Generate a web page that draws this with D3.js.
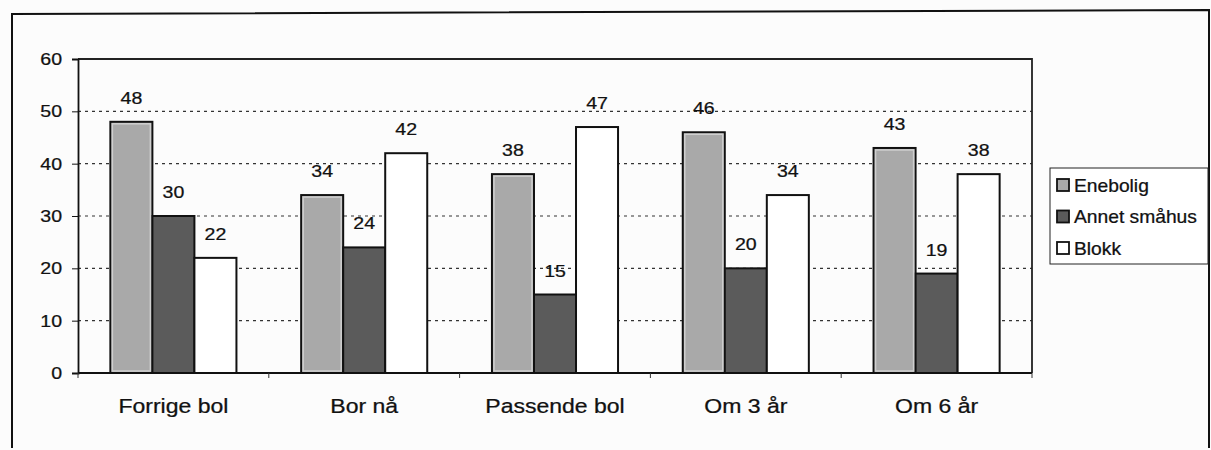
<!DOCTYPE html>
<html>
<head>
<meta charset="utf-8">
<script src="https://cdn.jsdelivr.net/npm/d3@7"></script>
<style>
  html, body { margin: 0; padding: 0; background: #fcfcfc; }
  svg { display: block; font-family: "Liberation Sans", Arial, sans-serif; }
</style>
</head>
<body>
<svg id="chart" width="1211" height="450"></svg>
<script>
// Housing type shares (%) by point in time
const categories = ["Forrige bol", "Bor nå", "Passende bol", "Om 3 år", "Om 6 år"];
const seriesNames = ["Enebolig", "Annet småhus", "Blokk"];
const enebolig = [48, 34, 38, 46, 43];
const annetSmahus = [30, 24, 15, 20, 19];
const blokk = [22, 42, 47, 34, 38];
const yTicks = [0, 10, 20, 30, 40, 50, 60];

const seriesValues = [enebolig, annetSmahus, blokk];
const fills = ["#a9a9a9", "#5b5b5b", "#ffffff"];

const svg = d3.select("#chart");

// Place text at (x, y) with horizontally widened glyphs
function wideText(sel, xFn, yFn, k) {
  sel.attr("x", 0).attr("y", 0)
    .attr("stroke", "#111").attr("stroke-width", 0.25)
    .attr("transform", (d, i) => `translate(${xFn(d, i)},${yFn(d, i)}) scale(${k},1)`);
}

// Outer frame
svg.append("path")
  .attr("d", "M12,448 L12,14 L1209,10 L1209,448")
  .attr("fill", "none").attr("stroke", "#111").attr("stroke-width", 2);

const plot = { left: 78, right: 1032, top: 59, bottom: 373 };

const x = d3.scaleBand().domain(categories).range([plot.left, plot.right]);
const inner = d3.scaleBand().domain(seriesNames).range([0, x.bandwidth()])
  .paddingInner(0).paddingOuter(0.77);
const y = d3.scaleLinear().domain([0, 60]).range([plot.bottom, plot.top]);

// Gridlines
svg.append("g").selectAll("line")
  .data(yTicks.filter(t => t > 0 && t < 60))
  .join("line")
  .attr("x1", plot.left).attr("x2", plot.right)
  .attr("y1", d => y(d)).attr("y2", d => y(d))
  .attr("stroke", "#333").attr("stroke-width", 1.2)
  .attr("stroke-dasharray", "3,4");

// Plot border (top and right)
svg.append("path")
  .attr("d", `M${plot.left},${plot.top} L${plot.right},${plot.top} L${plot.right},${plot.bottom}`)
  .attr("fill", "none").attr("stroke", "#222").attr("stroke-width", 1.8);

// Y axis
const yAxis = svg.append("g")
  .attr("transform", `translate(${plot.left},0)`)
  .call(d3.axisLeft(y).tickValues(yTicks).tickSize(6).tickFormat(() => ""));
yAxis.select(".domain").attr("stroke", "#111").attr("stroke-width", 1.8);
yAxis.selectAll(".tick line").attr("stroke", "#111");
svg.append("g").selectAll("text")
  .data(yTicks)
  .join("text")
  .attr("text-anchor", "end")
  .attr("font-size", 17)
  .attr("fill", "#111")
  .text(d => d)
  .call(wideText, () => plot.left - 16, d => y(d) + 6, 1.15);

// X axis
const boundaries = categories.map(c => x(c)).concat([plot.right]);
svg.append("line")
  .attr("x1", plot.left).attr("x2", plot.right)
  .attr("y1", plot.bottom).attr("y2", plot.bottom)
  .attr("stroke", "#111").attr("stroke-width", 1.8);
svg.append("g").selectAll("line")
  .data(boundaries)
  .join("line")
  .attr("x1", d => d).attr("x2", d => d)
  .attr("y1", plot.bottom).attr("y2", plot.bottom + 5)
  .attr("stroke", "#333").attr("stroke-width", 1);
svg.append("g").selectAll("text")
  .data(categories)
  .join("text")
  .attr("text-anchor", "middle")
  .attr("font-size", 19.5)
  .attr("fill", "#111")
  .text(d => d)
  .call(wideText, d => x(d) + x.bandwidth() / 2, () => 413, 1.18);

// Bars
const bars = [];
seriesNames.forEach((s, si) => {
  categories.forEach((c, ci) => {
    bars.push({ series: s, si, cat: c, value: seriesValues[si][ci] });
  });
});

const barG = svg.append("g");
barG.selectAll("rect.bar")
  .data(bars)
  .join("rect")
  .attr("class", "bar")
  .attr("x", d => x(d.cat) + inner(d.series))
  .attr("y", d => y(d.value))
  .attr("width", inner.bandwidth())
  .attr("height", d => y(0) - y(d.value))
  .attr("fill", d => fills[d.si])
  .attr("stroke", "#111")
  .attr("stroke-width", 2);

// Lighter inner edge on the Enebolig bars
barG.selectAll("rect.inner")
  .data(bars.filter(d => d.si === 0))
  .join("rect")
  .attr("class", "inner")
  .attr("x", d => x(d.cat) + inner(d.series) + 2)
  .attr("y", d => y(d.value) + 2)
  .attr("width", inner.bandwidth() - 4)
  .attr("height", d => y(0) - y(d.value) - 4)
  .attr("fill", "none")
  .attr("stroke", "#cfcfcf")
  .attr("stroke-width", 1.5);

// Value labels
svg.append("g").selectAll("text")
  .data(bars)
  .join("text")
  .attr("text-anchor", "middle")
  .attr("font-size", 17)
  .attr("fill", "#111")
  .text(d => d.value)
  .call(wideText,
    d => x(d.cat) + inner(d.series) + inner.bandwidth() / 2,
    d => y(d.value) - 18, 1.15);

// Legend
const legend = svg.append("g").attr("transform", "translate(1050,168)");
legend.append("rect")
  .attr("x", 0).attr("y", 0).attr("width", 158).attr("height", 96)
  .attr("fill", "#fff").attr("stroke", "#222").attr("stroke-width", 1);
const items = legend.selectAll("g.item")
  .data(seriesNames)
  .join("g")
  .attr("class", "item")
  .attr("transform", (d, i) => `translate(7,${17 + i * 31.5})`);
items.append("rect")
  .attr("x", 0).attr("y", -6).attr("width", 12).attr("height", 12)
  .attr("fill", (d, i) => fills[i])
  .attr("stroke", "#111").attr("stroke-width", 1.8);
items.append("text")
  .attr("font-size", 17.5)
  .attr("fill", "#111")
  .text(d => d)
  .call(wideText, () => 17, () => 6.5, 1.1);
</script>
</body>
</html>
